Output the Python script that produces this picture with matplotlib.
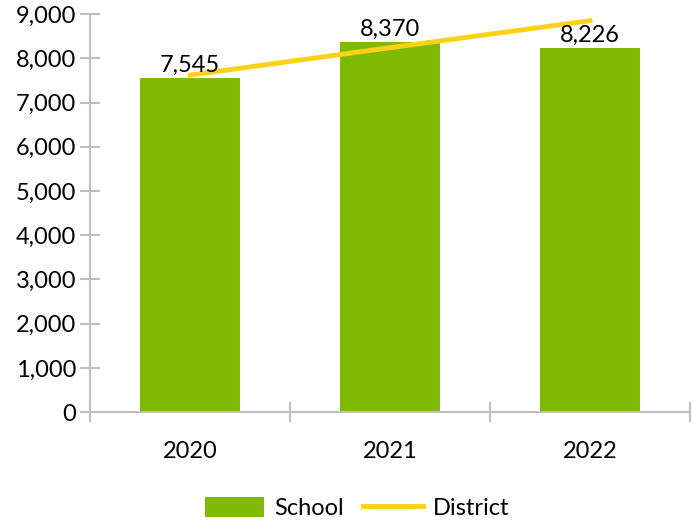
import matplotlib.pyplot as plt
from matplotlib.ticker import FuncFormatter

plt.rcParams['font.family'] = ['Lato', 'DejaVu Sans']

years = ['2020', '2021', '2022']
school = [7545, 8370, 8226]
district = [7620, 8240, 8850]

green = '#7FBA00'
yellow = '#FCD116'
grey = '#BFBFBF'

fig = plt.figure(figsize=(6.93, 5.21), dpi=100)
ax = fig.add_axes([0.13, 0.209, 0.8657, 0.764])

x = range(len(years))
bars = ax.bar(x, school, width=0.5, color=green, label='School', zorder=2)
line, = ax.plot(x, district, color=yellow, lw=3.5, label='District', zorder=3)

for xi, v in zip(x, school):
    ax.text(xi, v + 50, f'{v:,}', ha='center', va='bottom', fontsize=17, color='black', zorder=4)

ax.set_xlim(-0.5, 2.5)
ax.set_ylim(0, 9000)
ax.set_yticks(range(0, 9001, 1000))
ax.yaxis.set_major_formatter(FuncFormatter(lambda v, p: f'{int(v):,}'))
ax.set_xticks([-0.5, 0.5, 1.5, 2.5], minor=False)
ax.set_xticklabels([])
ax.set_xticks(list(x), minor=True)
ax.set_xticklabels(years, minor=True)
ax.tick_params(axis='x', which='major', direction='inout', length=14, color=grey, width=1.5)
ax.tick_params(axis='x', which='minor', length=0, pad=21, labelsize=17)
ax.tick_params(axis='y', direction='inout', length=14, color=grey, width=1.5, labelsize=17, pad=3)

for s in ['top', 'right']:
    ax.spines[s].set_visible(False)
for s in ['left', 'bottom']:
    ax.spines[s].set_color(grey)
    ax.spines[s].set_linewidth(1.5)

fig.legend([bars, line], ['School', 'District'], loc='lower center',
           bbox_to_anchor=(0.515, -0.037), ncol=2, frameon=False,
           fontsize=17, handlelength=2.5, handleheight=0.9, columnspacing=0.85,
           handletextpad=0.42)

fig.savefig('out.png', dpi=100)
